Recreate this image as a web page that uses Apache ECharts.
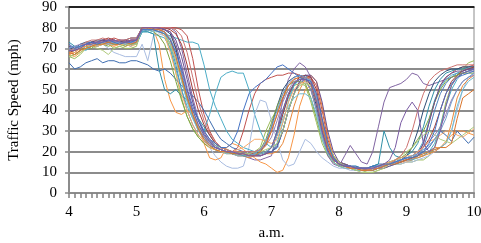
<!DOCTYPE html>
<html><head><meta charset="utf-8">
<script src="https://cdn.jsdelivr.net/npm/echarts@6/dist/echarts.min.js"></script>
<style>html,body{margin:0;padding:0;background:#fff}#c{width:481px;height:243px}</style>
</head><body><div id="c"></div>
<script>
// time categories 4:00 - 10:00, 5 min steps
const hours = ['4','5','6','7','8','9','10'];
const yTicks = [0,10,20,30,40,50,60,70,80,90];
const categories = [];
for (let h = 4; h <= 10; h++) { for (let m = 0; m < 60; m += 5) { if (h === 10 && m > 0) break; categories.push(h + ':' + (m < 10 ? '0' : '') + m); } }

const sA = [70,69,71,72,71,72,73,73,72,73,72,73,73, 79,79,79,79,78, 72,62,50,40,33,28,25,23,22,21, 20,20,19,19,18,19,18,19,20, 22,30,40,48,54,57, 56,44,30,20,16,14, 13,13,12,12,12,13,13,14,14,15,15,16, 17,18,22,30,40,48,53,56,58,59,60,60];
const sB = [68,67,69,71,72,73,73,74,75,74,73,72,73, 80,80,80,80,80, 80,80,79,76,65,50,38,30,25,22, 21,20,22,30,40,48,53,55,56, 57,57,58,58,57,56, 56,52,40,26,18,14, 13,12,12,12,11,12,13,13,14,15,15,16, 16,18,24,34,44,52,56,58,60,61,61,62];
const sC = [66,65,67,70,73,71,72,72,70,71,70,70,71, 80,80,79,78,77, 70,58,46,37,31,27,24,22,21,20, 20,19,19,18,19,20,22,30,36, 40,46,50,52,53,52, 44,34,24,18,15,13, 12,12,11,11,10,10,11,12,13,14,14,15, 15,16,16,18,22,32,44,52,57,60,63,64];
const sD = [69,70,70,71,72,72,73,74,73,74,73,74,74, 80,80,80,80,80, 80,78,70,58,46,36,30,26,23,21, 20,19,18,18,17,16,16,17,18, 30,45,55,60,63,61, 56,45,30,18,14,13, 18,23,19,15,14,20,32,44,51,52,53,55, 58,57,53,52,53,54,55,56,57,58,59,59];
const sE = [71,70,70,69,71,72,72,73,72,72,73,72,72, 78,78,77,76,75, 70,60,50,42,36,32,30,38,48,56, 58,59,58,58,50,38,30,24,22, 28,38,46,52,55,56, 55,46,34,24,18,15, 14,13,13,12,12,12,13,14,15,16,16,17, 18,20,25,35,45,51,55,57,58,58,59,60];
const sF = [67,66,68,70,71,71,72,72,71,72,71,72,72, 80,80,79,72,55, 45,39,38,40,38,32,24,17,16,17, 22,24,23,21,19,17,15,14,12, 10,11,17,28,42,50, 52,45,32,20,15,13, 12,12,11,11,12,12,13,13,14,15,15,15, 16,18,18,20,22,22,25,28,30,30,29,28];
const sG = [63,60,61,63,64,65,63,64,64,63,63,64,64, 63,62,60,59,60, 58,55,52,49,47,44,40,35,30,26, 24,22,21,20,20,19,19,20,20, 22,30,40,48,53,55, 54,45,32,22,17,15, 14,13,13,12,12,13,14,14,15,15,16,17, 17,18,20,22,26,30,28,25,30,27,24,27];
const sH = [70,69,71,72,71,72,72,70,68,67,66,66,66, 72,64,76,77,76, 74,70,62,52,44,36,28,22,18,15, 13,12,12,13,22,38,45,44,35, 25,16,13,14,20,26, 24,20,17,15,13,12, 12,11,11,11,11,12,12,13,13,14,14,15, 15,16,17,18,20,22,24,30,40,50,56,58];
const sI = [73,71,70,71,72,71,72,73,72,73,72,71,73, 78,78,77,60,50, 48,50,47,45,40,36,32,28,24,22, 21,20,20,19,19,18,19,20,22, 30,40,48,53,55,55, 50,40,28,20,16,14, 14,13,12,12,12,13,14,30,22,18,17,18, 20,24,32,42,50,55,58,59,60,60,61,61];
const sJ = [69,68,70,72,73,72,73,72,73,74,73,73,72, 78,79,79,78,77, 76,75,74,73,73,72,62,50,42,36, 30,26,24,22,21,20,19,19,20, 24,34,44,52,56,57, 54,44,30,20,16,14, 13,13,12,12,11,12,13,13,14,14,15,16, 16,17,18,20,24,32,42,50,55,58,59,60];
const sK = [67,68,70,71,72,73,73,73,74,73,74,73,73, 80,80,80,79,79, 78,70,58,46,37,30,26,23,21,20, 19,19,18,18,17,18,18,19,19, 20,24,32,42,50,55, 57,54,42,28,18,15, 14,13,12,12,12,12,13,14,14,15,16,16, 17,17,18,19,20,22,24,34,46,52,55,57];
const sL = [70,70,72,73,73,74,74,73,74,73,74,75,75, 80,80,80,80,79, 77,70,58,47,38,31,27,24,22,21, 20,19,19,18,18,19,20,24,32, 42,50,54,56,57,56, 52,42,30,21,16,14, 13,13,12,11,11,12,12,13,14,15,16,18, 22,30,40,48,54,57,59,60,60,61,61,61];
const sM = [68,69,70,71,73,73,74,75,74,73,73,74,74, 80,80,80,80,80, 79,77,72,62,50,40,33,28,24,22, 21,20,20,19,19,19,19,20,22, 28,38,47,53,56,57, 56,50,36,24,17,14, 13,12,12,12,11,11,12,13,14,15,16,17, 18,20,22,26,32,40,48,54,57,59,60,61];
const sN = [66,67,69,71,70,72,72,71,72,72,71,72,72, 79,79,78,76,72, 64,54,45,37,31,27,24,22,21,20, 20,19,19,19,18,19,21,26,34, 42,48,52,54,54,53, 46,36,26,19,15,13, 13,12,11,11,11,12,13,14,15,16,17,19, 22,26,30,36,44,50,54,56,57,58,58,58];
const sO = [71,70,71,72,73,73,74,74,73,74,74,73,74, 80,80,80,80,79, 78,74,66,55,44,35,29,25,23,21, 20,20,19,19,18,18,18,19,20, 23,30,40,48,54,57, 57,54,44,30,20,15, 14,13,12,12,11,11,12,12,13,14,15,16, 17,19,24,34,44,52,56,58,59,59,60,60];
const sP = [70,71,72,72,71,72,73,73,74,73,72,73,73, 79,80,80,79,78, 74,66,55,45,37,31,27,24,22,21, 20,20,19,19,19,20,21,23,27, 35,44,50,54,55,54, 50,40,28,20,16,14, 13,13,12,12,12,12,13,13,14,15,16,17, 18,20,22,25,28,32,38,45,50,54,56,57];
const sQ = [69,70,71,70,72,71,72,72,72,73,72,72,72, 79,79,78,78,77, 72,64,54,44,36,30,26,23,21,20, 19,19,18,18,18,19,19,20,22, 28,36,42,46,48,48, 46,38,26,19,15,13, 12,12,11,11,11,11,12,13,14,15,16,17, 18,18,19,20,21,22,24,30,42,50,54,56];
const sR = [68,68,70,71,72,71,72,72,71,72,72,71,72, 80,80,79,78,76, 68,58,48,40,33,28,25,22,21,20, 20,20,21,22,24,26,26,25,24, 26,34,44,50,53,54, 52,44,32,22,16,14, 13,12,12,11,11,12,13,14,15,16,17,18, 18,20,22,25,26,28,30,30,28,27,29,31];
const sS = [66,67,68,70,71,70,69,67,70,71,72,72,72, 80,80,79,78,77, 72,64,55,46,38,32,28,25,23,22, 21,20,20,19,19,20,20,21,22, 24,30,40,48,52,53, 52,46,34,24,18,15, 13,12,11,10,10,10,11,12,14,16,18,20, 22,25,28,30,28,26,25,24,26,28,30,32];
const sT = [69,70,71,73,74,74,75,74,73,74,74,75,75, 80,80,80,80,80, 80,79,76,68,56,44,35,29,25,22, 21,20,20,20,20,20,21,24,30, 38,46,52,55,56,56, 55,48,34,22,16,14, 13,12,12,11,11,12,12,13,14,16,18,22, 30,40,48,54,57,59,60,61,62,62,62,62];
const sU = [70,71,71,72,72,73,73,72,73,73,72,73,73, 79,79,79,78,78, 75,68,58,48,40,33,28,25,23,21, 20,20,19,19,18,19,21,25,32, 40,48,53,56,57,56, 54,46,32,22,17,14, 13,13,12,12,12,12,13,13,14,15,16,17, 18,19,21,23,26,30,36,44,50,54,56,58];
const sV = [68,67,69,70,71,72,72,73,72,72,73,72,73, 80,80,79,79,78, 74,66,56,46,38,31,26,23,21,20, 20,19,19,19,18,18,20,23,30, 38,46,52,55,56,55, 53,44,32,22,16,14, 13,12,12,11,11,11,12,13,14,14,15,16, 17,18,19,20,21,22,22,24,36,46,48,50];
const sW = [72,70,71,72,73,72,73,74,73,72,73,73,74, 79,79,79,78,77, 74,68,60,50,42,35,30,26,24,22, 22,24,30,40,48,51,53,55,58, 61,62,60,58,56,55, 54,48,36,24,17,14, 13,13,12,12,12,13,13,14,14,15,16,17, 17,18,20,24,30,40,48,53,56,57,58,59];
const sX = [69,69,70,72,72,73,73,74,74,73,73,74,74, 80,80,80,80,79, 78,72,62,50,40,33,28,25,22,21, 20,20,19,19,18,18,18,19,22, 30,40,48,53,55,55, 53,44,30,20,16,14, 13,13,12,12,12,12,13,14,16,22,34,40, 44,40,24,20,22,30,42,52,56,58,59,60];

const seriesData = [sA,sB,sC,sD,sE,sF,sG,sH,sI,sJ,sK,sL,sM,sN,sO,sP,sQ,sR,sS,sT,sU,sV,sW,sX];
const colors = ['#4F81BD','#C0504D','#9BBB59','#8064A2','#4BACC6','#F79646','#3E6DB0','#A9BCE0','#2F8FA6','#4BACC6','#E8883A','#2C4D75','#A23B38','#7FA343','#6B4F91','#9983B5','#6FBDD1','#F9AB6B','#AFC97A','#CD7371','#729ACA','#D9742A','#4472C4','#7A5BA3'];

const chart = echarts.init(document.getElementById('c'), null, {renderer:'canvas'});
const font = 'Liberation Serif';
chart.setOption({
  animation: false,
  grid: {left: 69, right: 7, top: 7, bottom: 50, show: true, borderColor: '#8c8c8c', borderWidth: 1, containLabel: false, outerBoundsMode: 'none'},
  xAxis: [{
    type: 'category', data: categories, boundaryGap: false,
    name: 'a.m.', nameLocation: 'middle', nameGap: 33,
    nameTextStyle: {fontFamily: font, fontSize: 15, color: '#000'},
    axisLine: {lineStyle: {color: '#8c8c8c', width: 2}},
    axisTick: {show: true, interval: 0, inside: false, length: 5, lineStyle: {color: '#808080', width: 1.5}},
    axisLabel: {interval: 11, margin: 12, fontFamily: font, fontSize: 15, color: '#000',
      formatter: function (v) { const p = v.split(':'); return p[1] === '00' && hours.indexOf(p[0]) >= 0 ? p[0] : ''; }},
    splitLine: {show: false}
  }, {
    type: 'category', position: 'top', data: categories, boundaryGap: false,
    axisLine: {lineStyle: {color: '#000', width: 1.5}}, axisTick: {show: false}, axisLabel: {show: false}
  }],
  yAxis: {
    type: 'value', min: yTicks[0], max: yTicks[yTicks.length - 1], interval: 10,
    name: 'Traffic Speed (mph)', nameLocation: 'middle', nameGap: 47,
    nameTextStyle: {fontFamily: font, fontSize: 15, color: '#000'},
    axisLine: {show: true, lineStyle: {color: '#8c8c8c', width: 2}},
    axisTick: {show: true, length: 4, lineStyle: {color: '#8c8c8c', width: 1.5}},
    axisLabel: {margin: 12, fontFamily: font, fontSize: 15, color: '#000'},
    splitLine: {lineStyle: {color: '#8c8c8c', width: 2}}
  },
  series: seriesData.map((d, k) => ({
    type: 'line', data: d, showSymbol: false, symbol: 'none',
    lineStyle: {width: 1, color: colors[k]}, itemStyle: {color: colors[k]}, z: 3
  }))
});
</script></body></html>
